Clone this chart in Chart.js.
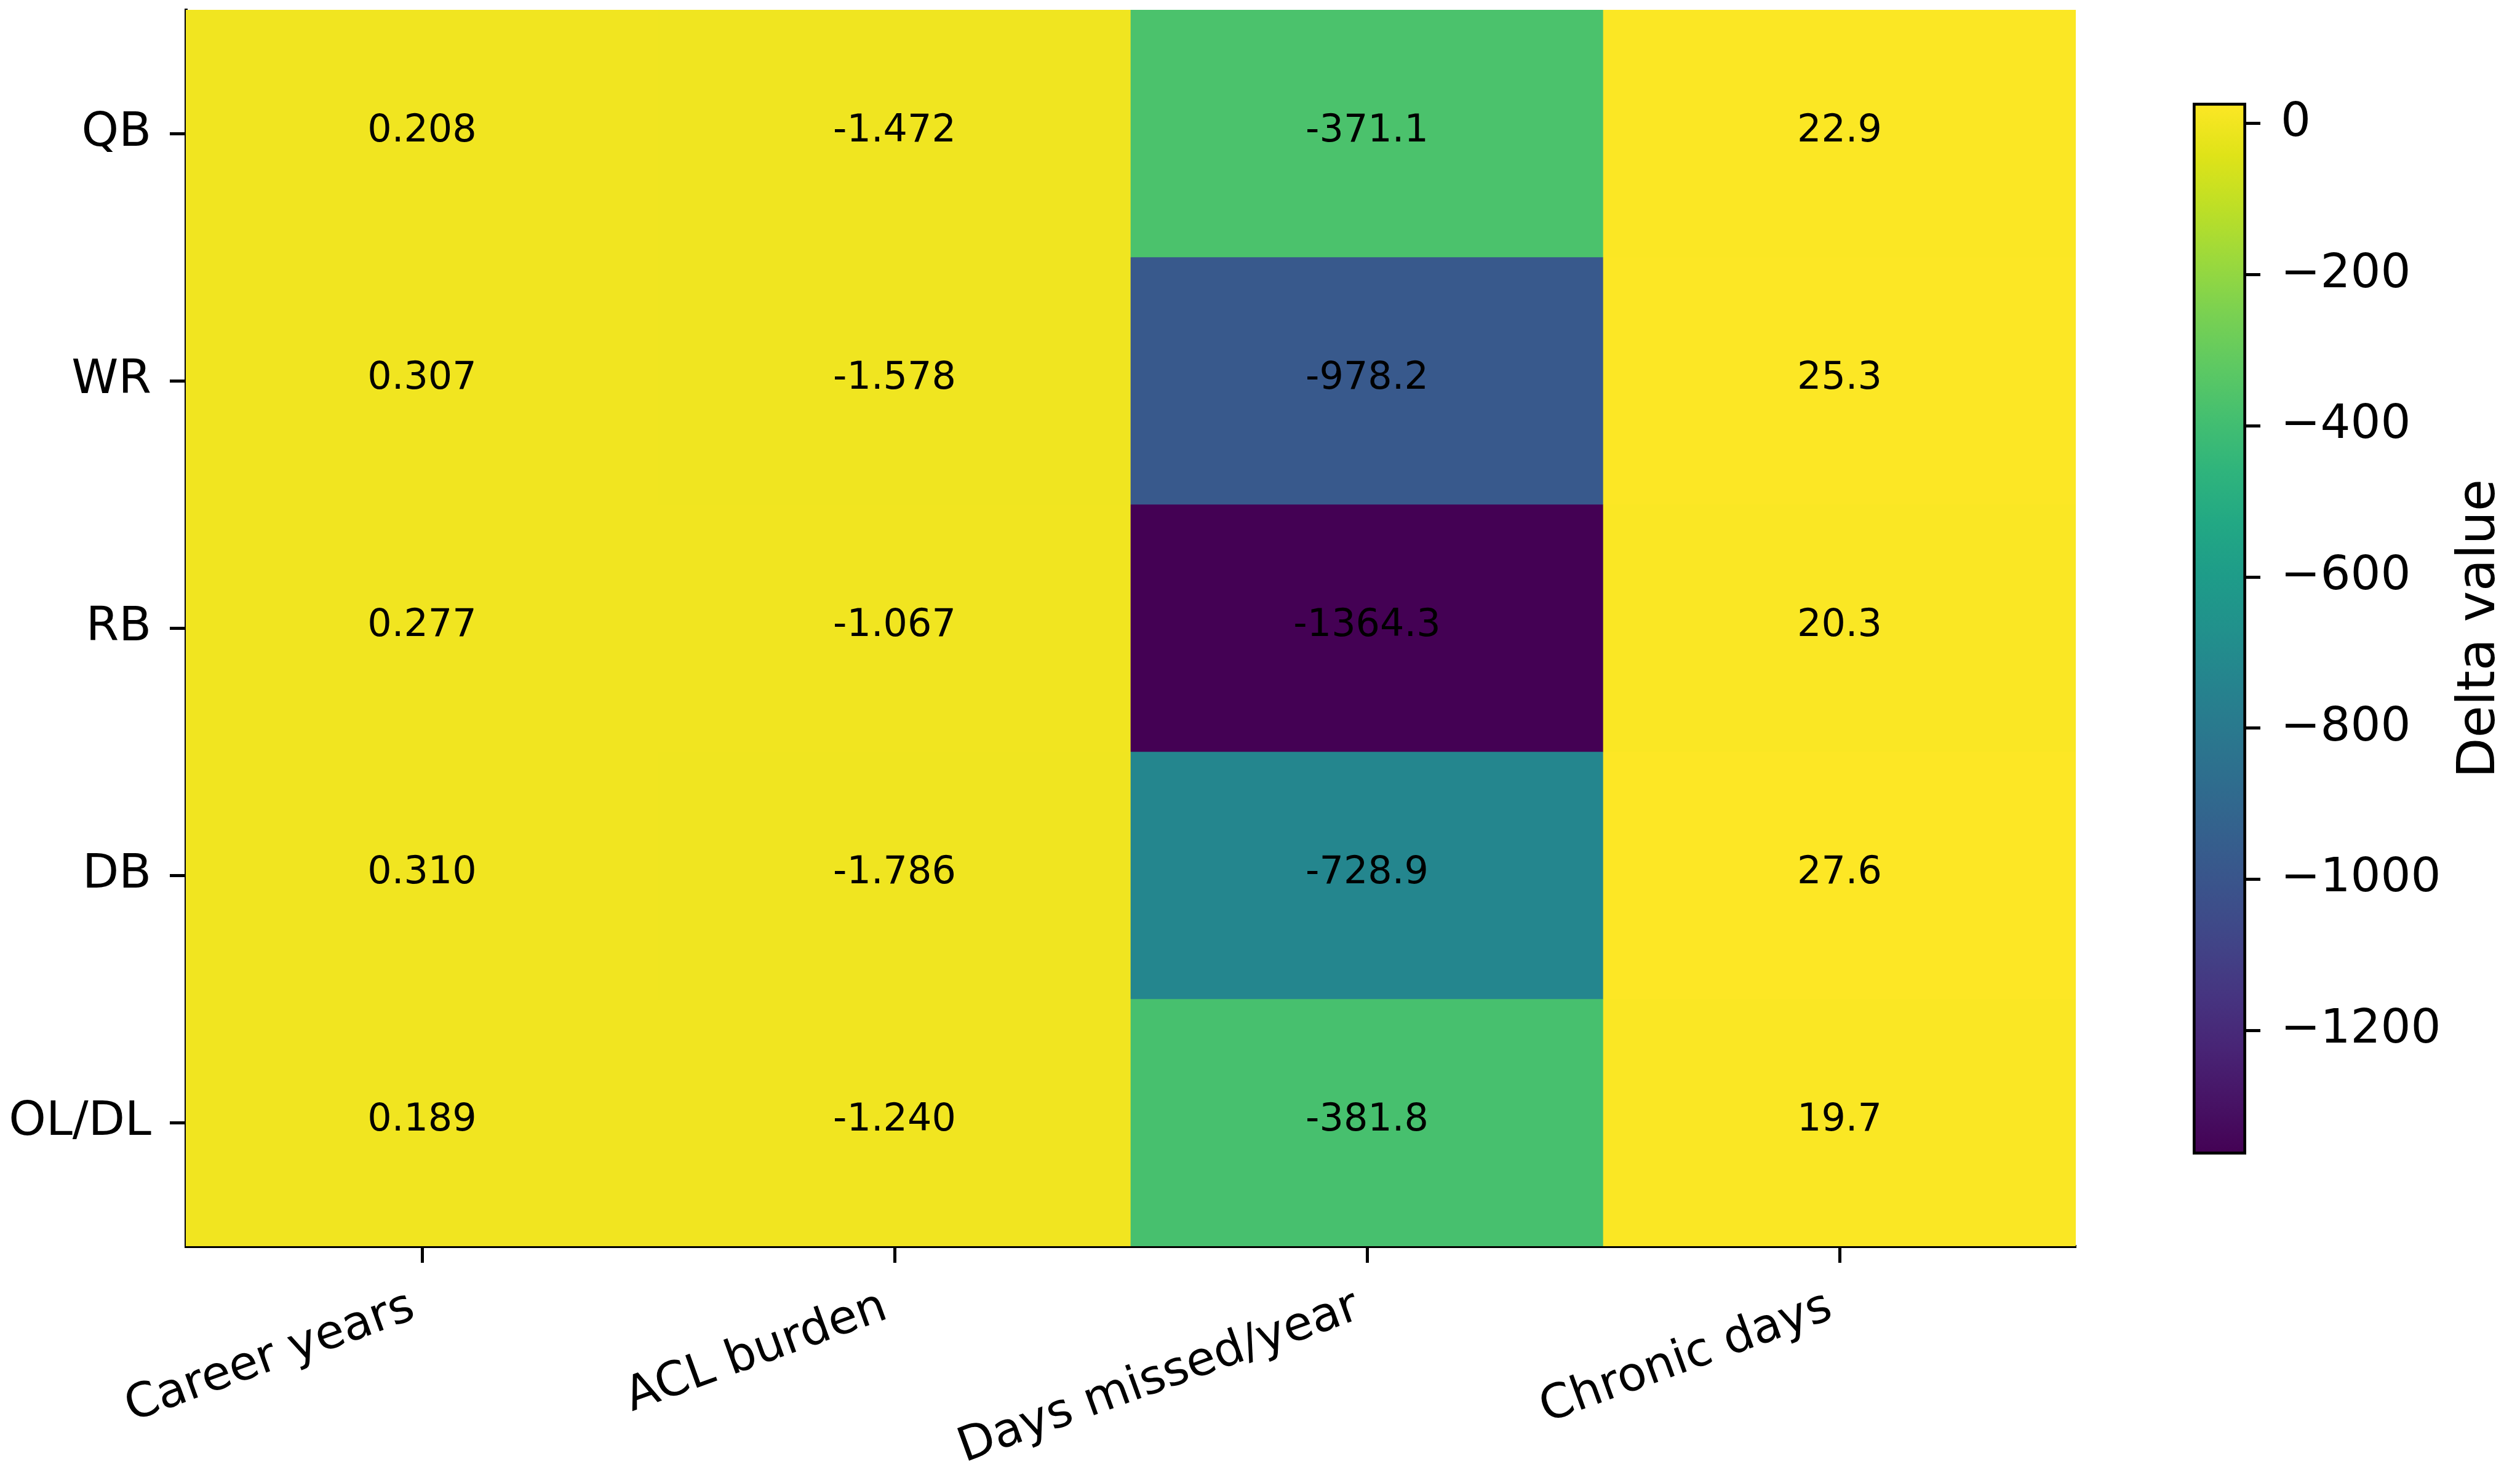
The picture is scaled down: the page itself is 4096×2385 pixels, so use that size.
<!DOCTYPE html>
<html><head><meta charset="utf-8">
<script src="https://cdn.jsdelivr.net/npm/chart.js@4/dist/chart.umd.min.js"></script>
<style>
html,body{margin:0;padding:0;background:#fff;width:4096px;height:2385px;overflow:hidden}
#main{position:absolute;left:0;top:0;width:4096px;height:2385px}
#cbar{position:absolute;left:3400px;top:0;width:696px;height:2385px}
</style></head><body>
<canvas id="main" width="4096" height="2385"></canvas>
<canvas id="cbar" width="696" height="2385"></canvas>
<script>
// ---- data ----
const columns = ["Career years", "ACL burden", "Days missed/year", "Chronic days"];
const rows = ["QB", "WR", "RB", "DB", "OL/DL"];
const careerYears = [0.208, 0.307, 0.277, 0.310, 0.189];
const aclBurden = [-1.472, -1.578, -1.067, -1.786, -1.240];
const daysMissed = [-371.1, -978.2, -1364.3, -728.9, -381.8];
const chronicDays = [22.9, 25.3, 20.3, 27.6, 19.7];
const columnDecimals = [3, 3, 1, 1];
const colorbarTicks = [0, -200, -400, -600, -800, -1000, -1200];
const colorbarLabel = "Delta value";

const columnValues = [careerYears, aclBurden, daysMissed, chronicDays];
const allValues = columnValues.flat();
const vMin = Math.min(...allValues);
const vMax = Math.max(...allValues);

// viridis colormap stops (0..1 in steps of 0.05)
const viridis = ["#440154","#471365","#482475","#463480","#414487","#3b528b","#355f8d","#2f6c8e","#2a788e","#25848e","#21918c","#1e9c89","#22a884","#2fb47c","#44bf70","#5ec962","#7ad151","#9bd93c","#bddf26","#dfe318","#fde725"];
function hexToRgb(h){return [parseInt(h.slice(1,3),16),parseInt(h.slice(3,5),16),parseInt(h.slice(5,7),16)];}
function viridisAt(t){
  t = Math.max(0, Math.min(1, t));
  const n = viridis.length - 1;
  const p = t * n, i = Math.min(Math.floor(p), n - 1), f = p - i;
  const a = hexToRgb(viridis[i]), b = hexToRgb(viridis[i+1]);
  const c = a.map((v,k)=>Math.round(v + (b[k]-v)*f));
  return `rgb(${c[0]},${c[1]},${c[2]})`;
}
const norm = v => (v - vMin) / (vMax - vMin);

Chart.defaults.color = '#000';
Chart.defaults.font.family = "'DejaVu Sans', sans-serif";

function noScalePadding(s) {
  s.paddingTop = 0; s.paddingBottom = 0; s.paddingLeft = 0; s.paddingRight = 0;
}

// ---- main heatmap ----
const datasets = rows.map((r, ri) => ({
  label: r,
  data: columns.map(() => [ri, ri + 1]),
  backgroundColor: columns.map((_, ci) => viridisAt(norm(columnValues[ci][ri]))),
  borderWidth: 0,
  grouped: false,
  barPercentage: 1,
  categoryPercentage: 1
}));

const annotatePlugin = {
  id: 'annotate',
  afterDatasetsDraw(chart) {
    const ctx = chart.ctx;
    ctx.save();
    ctx.font = "62px 'DejaVu Sans'";
    ctx.fillStyle = '#000';
    ctx.textAlign = 'center';
    ctx.textBaseline = 'middle';
    rows.forEach((r, ri) => {
      const meta = chart.getDatasetMeta(ri);
      meta.data.forEach((el, ci) => {
        const p = el.getCenterPoint();
        ctx.fillText(columnValues[ci][ri].toFixed(columnDecimals[ci]), p.x, p.y - 3);
      });
    });
    ctx.restore();
  }
};

new Chart(document.getElementById('main'), {
  type: 'bar',
  data: { labels: columns, datasets },
  options: {
    responsive: false,
    animation: false,
    events: [],
    layout: { padding: { left: 0, top: 16, right: 722, bottom: 0 } },
    plugins: { legend: { display: false }, tooltip: { enabled: false } },
    scales: {
      x: {
        offset: true,
        grid: { offset: false, drawOnChartArea: false, drawTicks: true, tickLength: 27, tickWidth: 5, tickColor: '#000' },
        border: { display: true, color: '#000', width: 5 },
        ticks: { font: { size: 77 }, minRotation: 20, maxRotation: 20, autoSkip: false, padding: 27, labelOffset: -15 },
        afterFit(s) { s.height = 359; noScalePadding(s); }
      },
      y: {
        type: 'linear',
        min: 0, max: 5, reverse: true,
        grid: { drawOnChartArea: false, drawTicks: true, tickLength: 26, tickWidth: 5, tickColor: '#000' },
        border: { display: true, color: '#000', width: 5 },
        afterBuildTicks(s) { s.ticks = rows.map((_, i) => ({ value: i + 0.5 })); },
        ticks: { font: { size: 77 }, padding: 30, callback: (v, i) => rows[i] },
        afterFit(s) { s.width = 302; noScalePadding(s); }
      }
    }
  },
  plugins: [annotatePlugin]
});

// ---- colorbar ----
const cbarLabelPlugin = {
  id: 'cbarLabel',
  afterDraw(chart) {
    const ctx = chart.ctx;
    ctx.save();
    ctx.translate(654, 1022);
    ctx.rotate(-Math.PI / 2);
    ctx.font = "85px 'DejaVu Sans'";
    ctx.fillStyle = '#000';
    ctx.textAlign = 'center';
    ctx.textBaseline = 'alphabetic';
    ctx.fillText(colorbarLabel, 0, 0);
    ctx.restore();
  }
};

new Chart(document.getElementById('cbar'), {
  type: 'bar',
  data: {
    labels: [''],
    datasets: [{
      data: [[vMin, vMax]],
      backgroundColor(ctx) {
        const ca = ctx.chart.chartArea;
        if (!ca) return '#888';
        const g = ctx.chart.ctx.createLinearGradient(0, ca.bottom, 0, ca.top);
        viridis.forEach((c, i) => g.addColorStop(i / (viridis.length - 1), c));
        return g;
      },
      borderColor: '#000',
      borderWidth: 5,
      borderSkipped: false,
      barPercentage: 1,
      categoryPercentage: 1
    }]
  },
  options: {
    responsive: false,
    animation: false,
    events: [],
    layout: { padding: { left: 164, top: 167, right: 0, bottom: 508 } },
    plugins: { legend: { display: false }, tooltip: { enabled: false } },
    scales: {
      x: { display: false },
      y: {
        position: 'right',
        min: vMin, max: vMax,
        grid: { drawOnChartArea: false, drawTicks: true, tickLength: 23, tickWidth: 5, tickColor: '#000' },
        border: { display: false },
        afterBuildTicks(s) { s.ticks = colorbarTicks.map(v => ({ value: v })); },
        ticks: { font: { size: 77 }, padding: 33, callback: v => v < 0 ? '\u2212' + Math.abs(v) : String(v) },
        afterFit(s) { s.width = 445; noScalePadding(s); }
      }
    }
  },
  plugins: [cbarLabelPlugin]
});
</script>
</body></html>
